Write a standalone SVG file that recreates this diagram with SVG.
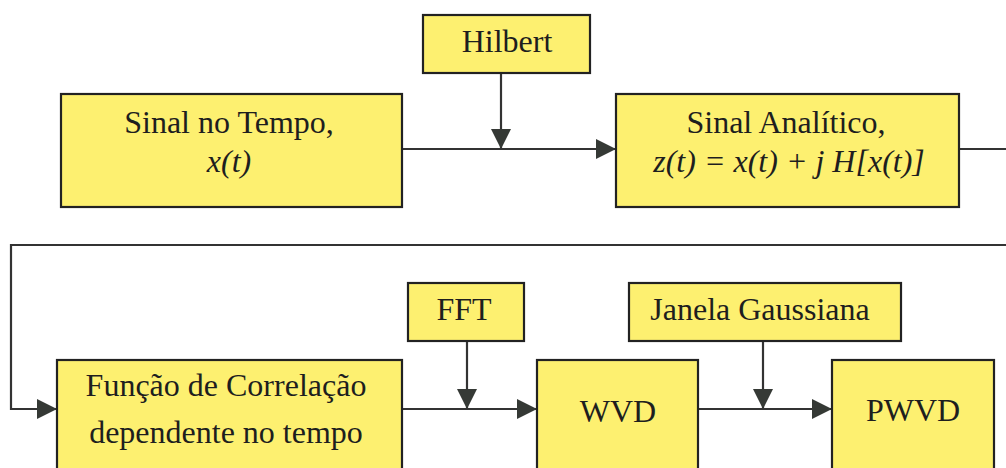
<svg xmlns="http://www.w3.org/2000/svg" width="1006" height="468" viewBox="0 0 1006 468">
<style>
.box{fill:#fdf070;stroke:#222;stroke-width:2.2}
.t{font-family:"Liberation Serif","Times New Roman",serif;font-size:32px;fill:#1e1e1e;text-anchor:middle}
.i{font-style:italic}
.c{fill:none;stroke:#333;stroke-width:2.2}
</style>
<defs>
<marker id="ah" markerUnits="userSpaceOnUse" markerWidth="20" markerHeight="20" refX="20" refY="10" orient="auto" viewBox="0 0 20 20">
<path d="M0,0 L20,10 L0,20 Z" fill="#353935"/>
</marker>
</defs>
<rect width="1006" height="468" fill="#fff"/>
<g id="connectors">
<path class="c" d="M402,149 H616" marker-end="url(#ah)"/>
<path class="c" d="M501,73 V149" marker-end="url(#ah)"/>
<path class="c" d="M959,149 H1006"/>
<path class="c" d="M1006,245 H11 V409 H57" marker-end="url(#ah)"/>
<path class="c" d="M402,409 H537" marker-end="url(#ah)"/>
<path class="c" d="M467,341 V409" marker-end="url(#ah)"/>
<path class="c" d="M698,409 H832" marker-end="url(#ah)"/>
<path class="c" d="M763,341 V409" marker-end="url(#ah)"/>
</g>
<g id="hilbert">
<rect class="box" x="423" y="15" width="167" height="58"/>
<text class="t" x="507" y="52">Hilbert</text>
</g>
<g id="sinal-tempo">
<rect class="box" x="61" y="94" width="341" height="113"/>
<text class="t" x="229" y="133">Sinal no Tempo,</text>
<text class="t i" x="229" y="172">x(t)</text>
</g>
<g id="sinal-analitico">
<rect class="box" x="616" y="94" width="343" height="113"/>
<text class="t" x="786" y="133">Sinal Analítico,</text>
<text class="t i" x="789" y="172" xml:space="preserve">z(t) = x(t) + j H[x(t)]</text>
</g>
<g id="funcao">
<rect class="box" x="57" y="360" width="345" height="160"/>
<text class="t" x="226" y="396">Função de Correlação</text>
<text class="t" x="226" y="443">dependente no tempo</text>
</g>
<g id="fft">
<rect class="box" x="408" y="283" width="116" height="58"/>
<text class="t" x="464" y="320">FFT</text>
</g>
<g id="wvd">
<rect class="box" x="537" y="360" width="161" height="160"/>
<text class="t" x="618" y="422">WVD</text>
</g>
<g id="janela">
<rect class="box" x="629" y="283" width="272" height="58"/>
<text class="t" x="760" y="320">Janela Gaussiana</text>
</g>
<g id="pwvd">
<rect class="box" x="832" y="360" width="162" height="160"/>
<text class="t" x="913" y="421">PWVD</text>
</g>
</svg>
